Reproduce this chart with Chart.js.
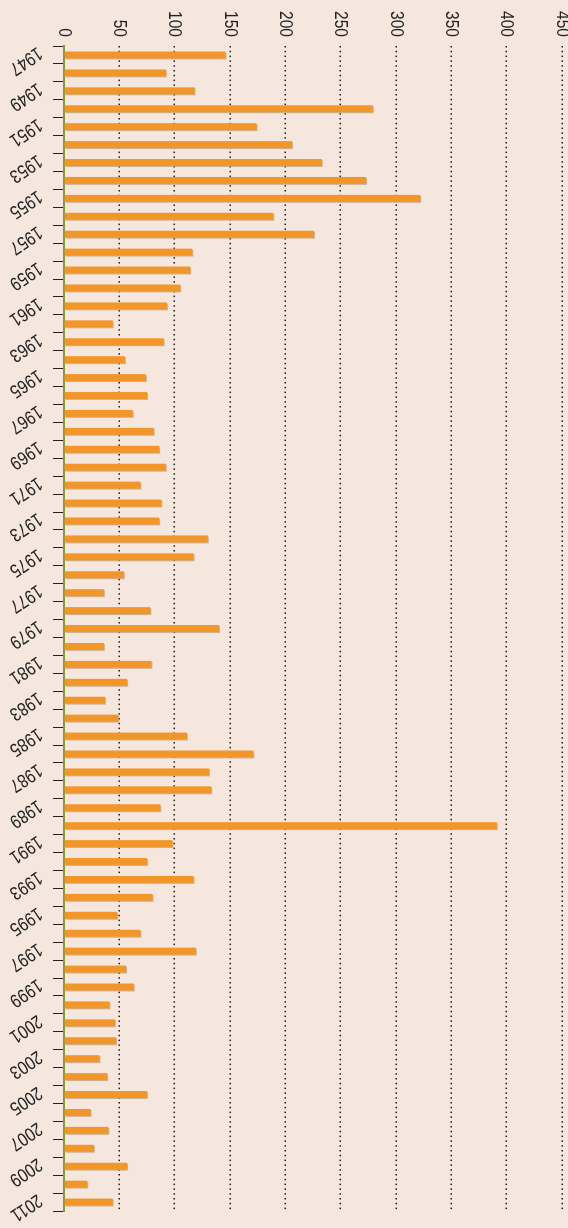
<!DOCTYPE html>
<html>
<head>
<meta charset="utf-8">
<title>Yearly totals 1947-2011</title>
<script src="https://cdn.jsdelivr.net/npm/chart.js@4.4.1/dist/chart.umd.min.js"></script>
<style>
    html, body { margin: 0; padding: 0; background: #f5e7de; overflow: hidden; }
    /* chart is laid out landscape, then turned a quarter clockwise */
    #wrap {
        position: absolute; left: 0; top: 0;
        width: 1228px; height: 568px;
        transform-origin: 0 0;
        transform: translateX(568px) rotate(90deg);
    }
</style>
</head>
<body>
<div id="wrap"><canvas id="barChart"></canvas></div>
<script>
// --- Data ---
const years = [
    '1947', '1948', '1949', '1950', '1951', '1952', '1953', '1954', '1955', '1956',
    '1957', '1958', '1959', '1960', '1961', '1962', '1963', '1964', '1965', '1966',
    '1967', '1968', '1969', '1970', '1971', '1972', '1973', '1974', '1975', '1976',
    '1977', '1978', '1979', '1980', '1981', '1982', '1983', '1984', '1985', '1986',
    '1987', '1988', '1989', '1990', '1991', '1992', '1993', '1994', '1995', '1996',
    '1997', '1998', '1999', '2000', '2001', '2002', '2003', '2004', '2005', '2006',
    '2007', '2008', '2009', '2010', '2011'
];
const counts = [
    146, 92, 118, 279, 174, 206, 233, 273, 322, 189,
    226, 116, 114, 105, 93, 44, 90, 55, 74, 75,
    62, 81, 86, 92, 69, 88, 86, 130, 117, 54,
    36, 78, 140, 36, 79, 57, 37, 49, 111, 171,
    131, 133, 87, 391, 98, 75, 117, 80, 48, 69,
    119, 56, 63, 41, 46, 47, 32, 39, 75, 24,
    40, 27, 57, 21, 44
];
const valueTicks = [0, 50, 100, 150, 200, 250, 300, 350, 400, 450];

const fontFamily = '"Liberation Sans", Arial, sans-serif';
const textColor = '#222';
const narrow = 0.82; // the original type is a condensed sans

// axis text drawn by hand: condensed value labels, slanted year labels
const axisText = {
    id: 'axisText',
    afterDraw(chart) {
        const ctx = chart.ctx;
        const xScale = chart.scales.x;
        const yScale = chart.scales.y;
        const area = chart.chartArea;
        ctx.save();
        ctx.fillStyle = textColor;
        ctx.textBaseline = 'middle';

        ctx.font = '19px ' + fontFamily;
        ctx.textAlign = 'right';
        valueTicks.forEach(v => {
            ctx.save();
            ctx.translate(area.left - 9, yScale.getPixelForValue(v));
            ctx.scale(narrow, 1);
            ctx.fillText(String(v), 0, 0);
            ctx.restore();
        });

        ctx.font = '19px ' + fontFamily;
        ctx.textAlign = 'left';
        years.forEach((yr, i) => {
            if (i % 2) return;
            ctx.save();
            ctx.translate(xScale.getPixelForValue(i) - 4, area.bottom + 24);
            ctx.rotate(56 * Math.PI / 180);
            ctx.scale(narrow, 1);
            ctx.fillText(yr, 0, 0);
            ctx.restore();
        });
        ctx.restore();
    }
};

// thin tan edge along the bars
const barShadow = {
    id: 'barShadow',
    beforeDatasetsDraw(chart) {
        const ctx = chart.ctx;
        ctx.save();
        ctx.shadowColor = 'rgba(185, 155, 115, 0.7)';
        ctx.shadowOffsetX = 1;
        ctx.shadowOffsetY = -1;
        ctx.shadowBlur = 0;
    },
    afterDatasetsDraw(chart) {
        chart.ctx.restore();
    }
};

new Chart(document.getElementById('barChart').getContext('2d'), {
    type: 'bar',
    data: {
        labels: years,
        datasets: [{
            data: counts,
            backgroundColor: '#f39629',
            borderWidth: 0,
            categoryPercentage: 0.43,
            barPercentage: 0.9
        }]
    },
    options: {
        responsive: true,
        maintainAspectRatio: false,
        animation: false,
        layout: { padding: { top: 6, right: 17, left: 0, bottom: 0 } },
        scales: {
            x: {
                offset: true,
                ticks: { display: false },
                grid: {
                    offset: true,
                    drawOnChartArea: false,
                    drawTicks: true,
                    tickLength: 11,
                    color: '#222',
                    lineWidth: 1
                },
                border: { color: '#8a9a3b', width: 2 },
                afterFit: s => { s.height = 64; s.paddingLeft = 0; s.paddingRight = 0; }
            },
            y: {
                min: 0,
                max: 450,
                afterBuildTicks: s => { s.ticks = valueTicks.map(v => ({ value: v })); },
                afterFit: s => { s.width = 46; s.paddingTop = 0; s.paddingBottom = 0; },
                ticks: { display: false },
                grid: {
                    drawTicks: false,
                    lineWidth: 1.4,
                    color: c => (c.tick && c.tick.value === 0) ? 'rgba(0,0,0,0)' : '#1a1a1a'
                },
                border: { display: false, dash: [1.5, 3.3] }
            }
        },
        plugins: {
            legend: { display: false },
            tooltip: { enabled: false }
        }
    },
    plugins: [barShadow, axisText]
});
</script>
</body>
</html>
